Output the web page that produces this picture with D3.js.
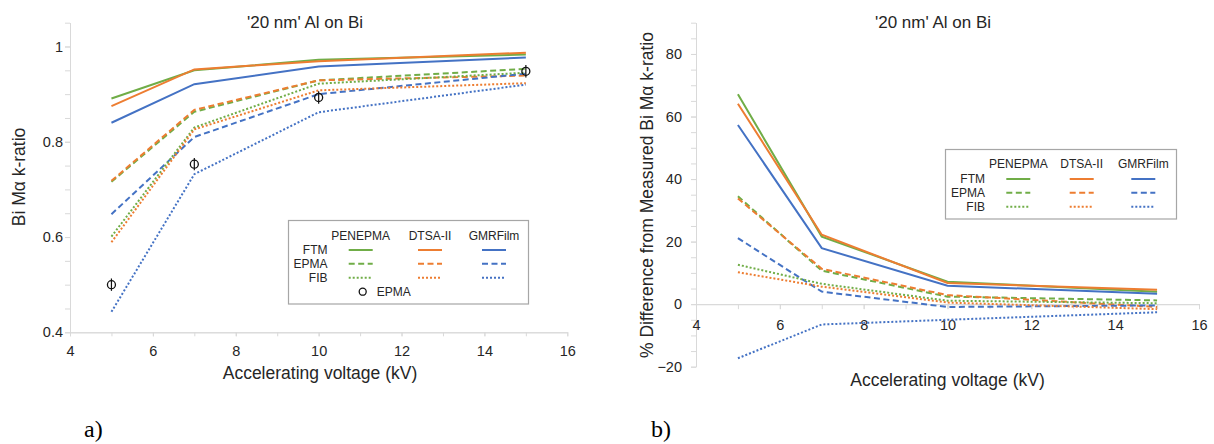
<!DOCTYPE html>
<html>
<head>
<meta charset="utf-8">
<script src="https://cdn.jsdelivr.net/npm/d3@7/dist/d3.min.js"></script>
<style>
  html, body { margin: 0; padding: 0; background: #fff; }
  svg { display: block; font-family: "Liberation Sans", Arial, sans-serif; }
</style>
</head>
<body>
<svg id="chart" width="1214" height="444"></svg>
<script>
// Accelerating voltages (kV)
const voltage = [5, 7, 10, 15];

// Panel a) Bi Mα k-ratio
const kFtmPenepma  = [0.891, 0.950, 0.972, 0.983];
const kFtmDtsa     = [0.875, 0.952, 0.969, 0.987];
const kFtmGmr      = [0.840, 0.921, 0.958, 0.977];
const kEpmaPenepma = [0.716, 0.863, 0.929, 0.953];
const kEpmaDtsa    = [0.718, 0.867, 0.929, 0.939];
const kEpmaGmr     = [0.648, 0.810, 0.900, 0.943];
const kFibPenepma  = [0.601, 0.830, 0.922, 0.945];
const kFibDtsa     = [0.589, 0.826, 0.908, 0.923];
const kFibGmr      = [0.443, 0.732, 0.862, 0.920];
const kMeasured    = [0.500, 0.753, 0.893, 0.948];
const kMeasuredErr = [0.013, 0.013, 0.013, 0.013];

// Panel b) % difference from measured k-ratio
const dFtmPenepma  = [67.1, 21.6, 7.2, 4.0];
const dFtmDtsa     = [64.1, 22.2, 6.8, 4.6];
const dFtmGmr      = [57.3, 17.9, 5.9, 3.3];
const dEpmaPenepma = [34.5, 10.7, 2.4, 1.2];
const dEpmaDtsa    = [33.8, 11.3, 2.9, -0.9];
const dEpmaGmr     = [21.1, 4.0, -0.9, -0.4];
const dFibPenepma  = [12.6, 6.5, 1.1, 0.3];
const dFibDtsa     = [10.2, 5.6, 0.5, -1.6];
const dFibGmr      = [-17.3, -6.5, -5.0, -2.6];

// Tick labels
const xTicks = [4, 6, 8, 10, 12, 14, 16];
const kTicks = [0.4, 0.6, 0.8, 1];
const dTicks = [-20, 0, 20, 40, 60, 80];

const programs = ["PENEPMA", "DTSA-II", "GMRFilm"];
const thicknesses = ["FTM", "EPMA", "FIB"];
const titleText = "'20 nm' Al on Bi";

const COLORS = { PENEPMA: "#70ad47", "DTSA-II": "#ed7d31", GMRFilm: "#4472c4" };
const DASH = { FTM: null, EPMA: "6,3.5", FIB: "2,2" };
const AXIS_GREY = "#d9d9d9";
const TEXT = "#262626";

const kSeries = [
  { prog: "PENEPMA", thick: "FTM", v: kFtmPenepma },
  { prog: "DTSA-II", thick: "FTM", v: kFtmDtsa },
  { prog: "GMRFilm", thick: "FTM", v: kFtmGmr },
  { prog: "PENEPMA", thick: "EPMA", v: kEpmaPenepma },
  { prog: "DTSA-II", thick: "EPMA", v: kEpmaDtsa },
  { prog: "GMRFilm", thick: "EPMA", v: kEpmaGmr },
  { prog: "PENEPMA", thick: "FIB", v: kFibPenepma },
  { prog: "DTSA-II", thick: "FIB", v: kFibDtsa },
  { prog: "GMRFilm", thick: "FIB", v: kFibGmr }
];
const dSeries = [
  { prog: "PENEPMA", thick: "FTM", v: dFtmPenepma },
  { prog: "DTSA-II", thick: "FTM", v: dFtmDtsa },
  { prog: "GMRFilm", thick: "FTM", v: dFtmGmr },
  { prog: "PENEPMA", thick: "EPMA", v: dEpmaPenepma },
  { prog: "DTSA-II", thick: "EPMA", v: dEpmaDtsa },
  { prog: "GMRFilm", thick: "EPMA", v: dEpmaGmr },
  { prog: "PENEPMA", thick: "FIB", v: dFibPenepma },
  { prog: "DTSA-II", thick: "FIB", v: dFibDtsa },
  { prog: "GMRFilm", thick: "FIB", v: dFibGmr }
];

const svg = d3.select("#chart");

function styleAxis(g, fontSize) {
  g.select(".domain").attr("stroke", AXIS_GREY).attr("stroke-width", 1);
  g.selectAll(".tick line").attr("stroke", AXIS_GREY).attr("stroke-width", 1);
  g.selectAll(".tick text").attr("fill", TEXT).style("font-size", fontSize + "px");
}

function drawSeries(g, x, y, series) {
  const line = d3.line().x((d, i) => x(voltage[i])).y(d => y(d));
  g.selectAll("path.series").data(series).join("path")
    .attr("class", "series")
    .attr("d", s => line(s.v))
    .attr("fill", "none")
    .attr("stroke", s => COLORS[s.prog])
    .attr("stroke-width", 2)
    .attr("stroke-dasharray", s => DASH[s.thick]);
}

function drawLegend(g, x0, y0, w, h, colX, headerY, rowY, rowLabelX, withMarker) {
  g.append("rect").attr("x", x0).attr("y", y0).attr("width", w).attr("height", h)
    .attr("fill", "#fff").attr("stroke", "#a6a6a6").attr("stroke-width", 1.2);
  programs.forEach((p, i) => {
    g.append("text").attr("x", colX[i]).attr("y", headerY).attr("text-anchor", "middle")
      .attr("fill", TEXT).style("font-size", "12px").text(p);
  });
  thicknesses.forEach((t, j) => {
    g.append("text").attr("x", rowLabelX).attr("y", rowY[j] + 4).attr("text-anchor", "end")
      .attr("fill", TEXT).style("font-size", "12px").text(t);
    programs.forEach((p, i) => {
      g.append("line")
        .attr("x1", colX[i] - 12).attr("x2", colX[i] + 12)
        .attr("y1", rowY[j]).attr("y2", rowY[j])
        .attr("stroke", COLORS[p]).attr("stroke-width", 2)
        .attr("stroke-dasharray", DASH[t]);
    });
  });
  if (withMarker) {
    const my = rowY[2] + 14;
    g.append("circle").attr("cx", colX[0] + 2).attr("cy", my).attr("r", 3.5)
      .attr("fill", "none").attr("stroke", "#111").attr("stroke-width", 1.3);
    g.append("text").attr("x", colX[0] + 16).attr("y", my + 4)
      .attr("fill", TEXT).style("font-size", "12px").text("EPMA");
  }
}

// ---------- Panel a ----------
{
  const x = d3.scaleLinear().domain([4, 16]).range([70, 567.3]);
  const y = d3.scaleLinear().domain([0.4, 1.05]).range([332.3, 22.7]);
  const g = svg.append("g");

  // minor ticks
  g.append("g").attr("transform", "translate(0,332.3)")
    .call(d3.axisBottom(x).tickValues(d3.range(4, 17, 1)).tickSize(4).tickSizeOuter(0).tickFormat(""))
    .call(a => styleAxis(a, 14.5));
  g.append("g").attr("transform", "translate(70,0)")
    .call(d3.axisLeft(y).tickValues(d3.range(0.4, 1.0501, 0.05)).tickSize(5).tickSizeOuter(0).tickFormat(""))
    .call(a => styleAxis(a, 14.5));
  // labelled ticks
  g.append("g").attr("transform", "translate(0,332.3)")
    .call(d3.axisBottom(x).tickValues(xTicks).tickSize(4).tickPadding(9).tickSizeOuter(0).tickFormat(d3.format("d")))
    .call(a => styleAxis(a, 14.5));
  g.append("g").attr("transform", "translate(70,0)")
    .call(d3.axisLeft(y).tickValues(kTicks).tickSize(5).tickPadding(2).tickSizeOuter(0).tickFormat(d => String(d)))
    .call(a => styleAxis(a, 14.5));

  drawSeries(g, x, y, kSeries);

  // measured points with error bars
  const pts = g.append("g");
  voltage.forEach((v, i) => {
    pts.append("line")
      .attr("x1", x(v)).attr("x2", x(v))
      .attr("y1", y(kMeasured[i] - kMeasuredErr[i])).attr("y2", y(kMeasured[i] + kMeasuredErr[i]))
      .attr("stroke", "#111").attr("stroke-width", 1.2);
    pts.append("circle").attr("cx", x(v)).attr("cy", y(kMeasured[i])).attr("r", 4)
      .attr("fill", "none").attr("stroke", "#111").attr("stroke-width", 1.3);
  });

  g.append("text").attr("x", 305).attr("y", 28).attr("text-anchor", "middle")
    .attr("fill", TEXT).style("font-size", "17px").text(titleText);
  g.append("text").attr("x", 320).attr("y", 379).attr("text-anchor", "middle")
    .attr("fill", TEXT).style("font-size", "17.5px").text("Accelerating voltage (kV)");
  g.append("text").attr("transform", "translate(25,177) rotate(-90)").attr("text-anchor", "middle")
    .attr("fill", TEXT).style("font-size", "17.5px").text("Bi Mα k-ratio");

  drawLegend(g, 288.5, 220.5, 240, 83.5, [360.7, 430, 494], 239.5, [250, 263.7, 277.7], 327.5, true);

  svg.append("text").attr("x", 84).attr("y", 437)
    .style("font-family", "'Liberation Serif', 'Times New Roman', serif")
    .style("font-size", "24px").attr("fill", "#000").text("a)");
}

// ---------- Panel b ----------
{
  const x = d3.scaleLinear().domain([4, 16]).range([696, 1199]);
  const y = d3.scaleLinear().domain([-20, 90]).range([366.7, 22.7]);
  const g = svg.append("g");

  g.append("g").attr("transform", "translate(696,0)")
    .call(d3.axisLeft(y).tickValues(d3.range(-20, 91, 5)).tickSize(5).tickSizeOuter(0).tickFormat(""))
    .call(a => styleAxis(a, 14.5));
  g.append("g").attr("transform", "translate(696,0)")
    .call(d3.axisLeft(y).tickValues(dTicks).tickSize(5).tickPadding(9).tickSizeOuter(0).tickFormat(d3.format("d")))
    .call(a => styleAxis(a, 14.5));
  g.append("g").attr("transform", `translate(0,${y(0)})`)
    .call(d3.axisBottom(x).tickValues(d3.range(4, 17, 1)).tickSize(5).tickSizeOuter(0).tickFormat(""))
    .call(a => styleAxis(a, 14.5));
  g.append("g").attr("transform", `translate(0,${y(0)})`)
    .call(d3.axisBottom(x).tickValues(xTicks).tickSize(5).tickPadding(10.5).tickSizeOuter(0).tickFormat(d3.format("d")))
    .call(a => styleAxis(a, 14.5));

  drawSeries(g, x, y, dSeries);

  g.append("text").attr("x", 933).attr("y", 28).attr("text-anchor", "middle")
    .attr("fill", TEXT).style("font-size", "17px").text(titleText);
  g.append("text").attr("x", 947.5).attr("y", 386).attr("text-anchor", "middle")
    .attr("fill", TEXT).style("font-size", "17.5px").text("Accelerating voltage (kV)");
  g.append("text").attr("transform", "translate(653,195) rotate(-90)").attr("text-anchor", "middle")
    .attr("fill", TEXT).style("font-size", "17.5px").text("% Difference from Measured Bi Mα k-ratio");

  drawLegend(g, 945.5, 149.5, 231, 69.5, [1018.3, 1081.7, 1143.3], 168, [179, 192.7, 206.7], 985, false);

  svg.append("text").attr("x", 651).attr("y", 437)
    .style("font-family", "'Liberation Serif', 'Times New Roman', serif")
    .style("font-size", "24px").attr("fill", "#000").text("b)");
}
</script>
</body>
</html>
